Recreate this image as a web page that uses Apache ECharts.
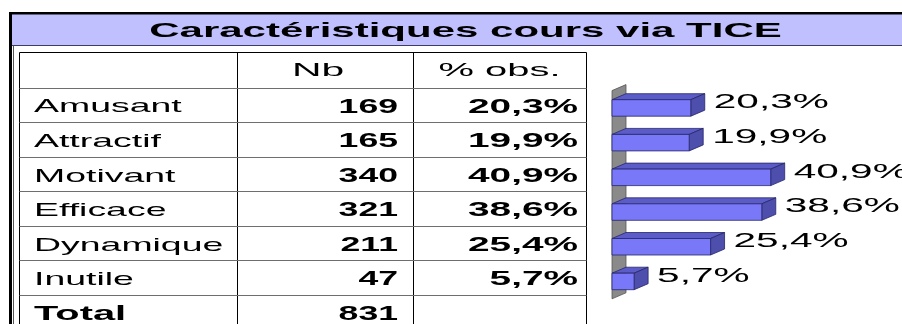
<!DOCTYPE html>
<html>
<head>
<meta charset="utf-8">
<script src="https://cdn.jsdelivr.net/npm/echarts@6/dist/echarts.min.js"></script>
<style>
  html, body { margin: 0; padding: 0; background: #ffffff; }
  #chart { width: 902px; height: 324px; }
</style>
</head>
<body>
<div id="chart"></div>
<script>
// ---- data ----
const title = 'Caractéristiques cours via TICE';
const headers = ['Nb', '% obs.'];
const categories = ['Amusant', 'Attractif', 'Motivant', 'Efficace', 'Dynamique', 'Inutile'];
const counts = [169, 165, 340, 321, 211, 47];
const percents = [20.3, 19.9, 40.9, 38.6, 25.4, 5.7];
const totalLabel = 'Total';
const total = 831;

// ---- helpers ----
const FONT = '"Liberation Sans", Arial, Helvetica, sans-serif';
const fmtPct = v => v.toFixed(1).replace('.', ',') + '%';

// wide, spaced lettering is produced by stretching text horizontally
function txt(text, x, y, o) {
  return {
    type: 'text', x: x, y: y, scaleX: o.sx, silent: true, z: 10,
    style: {
      text: text, fontSize: o.size, fontWeight: o.bold ? 'bold' : 'normal',
      fontFamily: FONT, fill: '#000', align: o.align, verticalAlign: 'middle'
    }
  };
}
function line(x1, y1, x2, y2, stroke, w) {
  return { type: 'line', silent: true, z: 5, shape: { x1, y1, x2, y2 }, style: { stroke, lineWidth: w } };
}

// ---- table layout ----
const T = { left: 19.5, c1: 237.5, c2: 413.5, right: 586.5, top: 52.5, headBottom: 87.7, rowH: 34.55 };
const graphics = [];

// frame and title band
graphics.push({ type: 'rect', silent: true, shape: { x: 12, y: 14, width: 890, height: 31 }, style: { fill: '#c0c0ff' } });
graphics.push({ type: 'rect', silent: true, shape: { x: 9, y: 12, width: 893, height: 2.5 }, style: { fill: '#000' } });
graphics.push({ type: 'rect', silent: true, shape: { x: 9, y: 12, width: 3, height: 312 }, style: { fill: '#000' } });
graphics.push(line(12, 45.5, 902, 45.5, '#3c3c64', 1.2));
graphics.push(line(13.5, 45.5, 13.5, 324, '#555', 1));
graphics.push(txt(title, 465.5, 31, { size: 21, bold: true, align: 'center', sx: 2.0 }));

// table grid
const nRows = categories.length + 1;
const tableBottom = T.headBottom + nRows * T.rowH;
graphics.push(line(T.left, T.top, T.right, T.top, '#000', 1));
graphics.push(line(T.left, T.top, T.left, tableBottom, '#000', 1));
graphics.push(line(T.c1, T.top, T.c1, tableBottom, '#000', 1));
graphics.push(line(T.c2, T.top, T.c2, tableBottom, '#000', 1));
graphics.push(line(T.right, T.top, T.right, tableBottom, '#000', 1));
for (let r = 0; r < nRows; r++) {
  const y = Math.round(T.headBottom + r * T.rowH) + 0.5;
  graphics.push(line(T.left, y, T.right, y, '#6e6e6e', 1));
}

// header
const headY = (T.top + T.headBottom) / 2 + 1;
graphics.push(txt(headers[0], 318, headY, { size: 19, align: 'center', sx: 2.15 }));
graphics.push(txt(headers[1], 499.5, headY, { size: 19, align: 'center', sx: 2.1 }));

// rows
categories.forEach((c, i) => {
  const y = T.headBottom + (i + 0.5) * T.rowH + 2.2;
  graphics.push(txt(c, 34, y, { size: 19, align: 'left', sx: 1.97 }));
  graphics.push(txt(String(counts[i]), 398, y, { size: 20, bold: true, align: 'right', sx: 1.78 }));
  graphics.push(txt(fmtPct(percents[i]), 578, y, { size: 20, bold: true, align: 'right', sx: 1.94 }));
});
const totY = T.headBottom + (categories.length + 0.5) * T.rowH + 2.2;
graphics.push(txt(totalLabel, 34, totY, { size: 20, bold: true, align: 'left', sx: 1.99 }));
graphics.push(txt(String(total), 398, totY, { size: 20, bold: true, align: 'right', sx: 1.78 }));

// ---- 3D bar look ----
const DX = 14, DY = -6, BAR_H = 16.5;
const FRONT = '#7878f8', TOP = '#5c5cc8', SIDE = '#4e4eac', EDGE = '#26266a';

function renderWall(params, api) {
  const band = api.size([0, 1])[1];
  const a = api.coord([0, 0]);
  const b = api.coord([0, categories.length - 1]);
  const x0 = a[0], top = a[1] - band / 2, bot = b[1] + band / 2;
  return {
    type: 'polygon',
    shape: { points: [[x0, top], [x0 + DX, top + DY], [x0 + DX, bot + DY], [x0, bot]] },
    style: { fill: '#8a8a8a', stroke: '#555', lineWidth: 0.8 }
  };
}

function renderBar(params, api) {
  const v = api.value(0), c = api.value(1);
  const p0 = api.coord([0, c]);
  const p1 = api.coord([v, c]);
  const x0 = p0[0], x1 = p1[0];
  const y0 = p0[1] - BAR_H / 2, y1 = p0[1] + BAR_H / 2;
  const st = fill => ({ fill: fill, stroke: EDGE, lineWidth: 0.8 });
  return {
    type: 'group',
    children: [
      { type: 'polygon', shape: { points: [[x0, y0], [x0 + DX, y0 + DY], [x1 + DX, y0 + DY], [x1, y0]] }, style: st(TOP) },
      { type: 'polygon', shape: { points: [[x1, y0], [x1 + DX, y0 + DY], [x1 + DX, y1 + DY], [x1, y1]] }, style: st(SIDE) },
      { type: 'rect', shape: { x: x0, y: y0, width: x1 - x0, height: BAR_H }, style: st(FRONT) },
      {
        type: 'text', x: x1 + DX + 9, y: p0[1] + DY + 1, scaleX: 2.08,
        style: { text: fmtPct(v), fontSize: 19.5, fontFamily: FONT, fill: '#000', align: 'left', verticalAlign: 'middle' }
      }
    ]
  };
}

const chart = echarts.init(document.getElementById('chart'), null, { renderer: 'canvas' });
chart.setOption({
  animation: false,
  backgroundColor: '#ffffff',
  grid: { left: 612, right: 96, top: 90.6, bottom: 25.2 },
  xAxis: { type: 'value', min: 0, max: 50, show: false },
  yAxis: { type: 'category', data: categories, inverse: true, show: false },
  graphic: graphics,
  series: [
    { type: 'custom', renderItem: renderWall, data: [[0, 0]], encode: { x: 0, y: 1 }, silent: true },
    {
      type: 'custom', renderItem: renderBar, silent: true,
      data: percents.map((p, i) => [p, i]), encode: { x: 0, y: 1 }
    }
  ]
});
</script>
</body>
</html>
